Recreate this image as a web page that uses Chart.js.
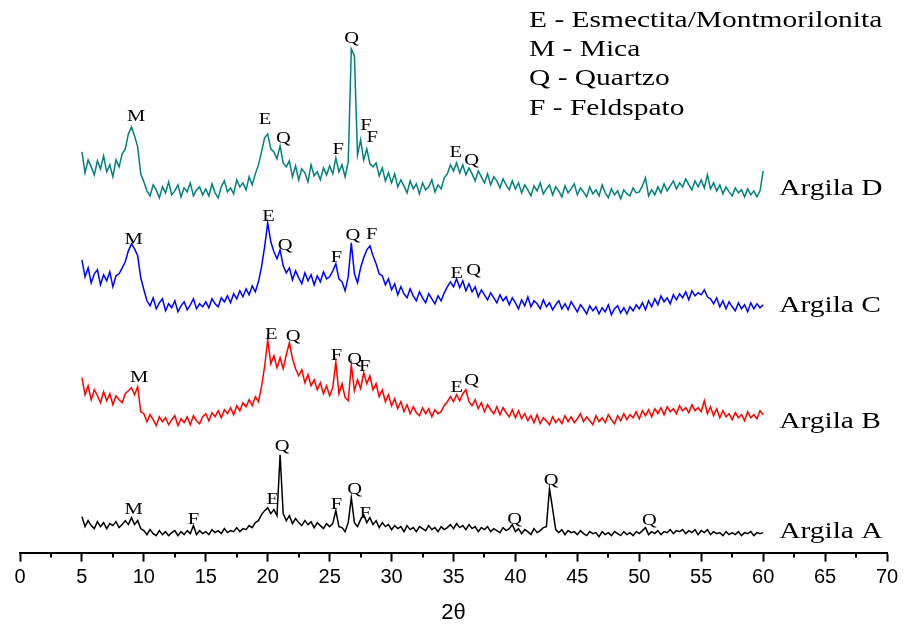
<!DOCTYPE html>
<html>
<head>
<meta charset="utf-8">
<script src="https://cdn.jsdelivr.net/npm/chart.js@4.4.1/dist/chart.umd.min.js"></script>
<style>
  body { margin: 0; background: #fff; }
  #wrap { width: 911px; height: 628px; }
</style>
</head>
<body>
<div id="wrap"><canvas id="xrd"></canvas></div>
<script>
// 2theta scan positions (deg)
const twoTheta = [
  5, 5.25, 5.5, 5.75, 6, 6.25, 6.5, 6.75, 7, 7.25, 7.5, 7.75, 8, 8.25, 8.5, 8.75, 9, 9.25, 9.5, 9.75,
  10, 10.25, 10.5, 10.75, 11, 11.25, 11.5, 11.75, 12, 12.25, 12.5, 12.75, 13, 13.25, 13.5, 13.75, 14, 14.25, 14.5, 14.75,
  15, 15.25, 15.5, 15.75, 16, 16.25, 16.5, 16.75, 17, 17.25, 17.5, 17.75, 18, 18.25, 18.5, 18.75, 19, 19.25, 19.5, 19.75,
  20, 20.25, 20.5, 20.75, 21, 21.25, 21.5, 21.75, 22, 22.25, 22.5, 22.75, 23, 23.25, 23.5, 23.75, 24, 24.25, 24.5, 24.75,
  25, 25.25, 25.5, 25.75, 26, 26.25, 26.5, 26.75, 27, 27.25, 27.5, 27.75, 28, 28.25, 28.5, 28.75, 29, 29.25, 29.5, 29.75,
  30, 30.25, 30.5, 30.75, 31, 31.25, 31.5, 31.75, 32, 32.25, 32.5, 32.75, 33, 33.25, 33.5, 33.75, 34, 34.25, 34.5, 34.75,
  35, 35.25, 35.5, 35.75, 36, 36.25, 36.5, 36.75, 37, 37.25, 37.5, 37.75, 38, 38.25, 38.5, 38.75, 39, 39.25, 39.5, 39.75,
  40, 40.25, 40.5, 40.75, 41, 41.25, 41.5, 41.75, 42, 42.25, 42.5, 42.75, 43, 43.25, 43.5, 43.75, 44, 44.25, 44.5, 44.75,
  45, 45.25, 45.5, 45.75, 46, 46.25, 46.5, 46.75, 47, 47.25, 47.5, 47.75, 48, 48.25, 48.5, 48.75, 49, 49.25, 49.5, 49.75,
  50, 50.25, 50.5, 50.75, 51, 51.25, 51.5, 51.75, 52, 52.25, 52.5, 52.75, 53, 53.25, 53.5, 53.75, 54, 54.25, 54.5, 54.75,
  55, 55.25, 55.5, 55.75, 56, 56.25, 56.5, 56.75, 57, 57.25, 57.5, 57.75, 58, 58.25, 58.5, 58.75, 59, 59.25, 59.5, 59.75,
  60
];

// intensities (a.u., stacked offset already included)
const argilaD = [
  401, 380, 393, 386, 378, 392, 384, 397, 381, 388, 376, 393, 386, 399, 404, 419, 426, 417, 406, 379,
  371, 362, 357, 368, 363, 355, 366, 360, 371, 358, 362, 368, 356, 365, 361, 370, 357, 363, 366, 358,
  364, 357, 369, 360, 355, 366, 372, 361, 365, 359, 373, 366, 370, 363, 376, 368, 379, 388, 401, 415,
  419, 404, 401, 394, 407, 390, 386, 392, 376, 387, 373, 384, 380, 371, 388, 377, 381, 373, 385, 378,
  387, 379, 395, 381, 388, 376, 391, 504, 497, 398, 413, 393, 404, 389, 386, 390, 377, 385, 372, 380,
  370, 379, 366, 373, 367, 360, 372, 364, 369, 359, 370, 363, 366, 373, 361, 368, 364, 375, 379, 388,
  382, 390, 380, 388, 378, 385, 379, 372, 382, 376, 370, 379, 368, 376, 372, 365, 374, 368, 363, 372,
  364, 370, 360, 368, 363, 357, 367, 362, 370, 359, 364, 368, 358, 366, 362, 356, 367, 360, 364, 369,
  358, 365, 361, 356, 366, 359, 363, 357, 368, 360, 355, 364, 358, 362, 354, 363, 359, 357, 365, 360,
  361, 367, 375, 357, 363, 358, 366, 360, 369, 362, 367, 372, 364, 370, 366, 374, 368, 363, 372, 366,
  373, 365, 378, 364, 370, 362, 368, 359, 366, 361, 357, 365, 360, 363, 356, 364, 358, 362, 356, 362,
  382
];
const argilaC = [
  293, 276, 285, 270, 279, 283, 268, 278, 272, 281, 266, 277, 279, 285, 291, 302, 309, 304, 297, 275,
  263, 252, 247, 255, 244, 250, 254, 242, 249, 245, 252, 241, 247, 251, 243, 248, 254, 244, 249, 246,
  251, 245, 254, 249, 246, 255, 251, 257, 250, 259, 254, 262, 256, 264, 258, 267, 261, 271, 286, 306,
  330, 311, 301, 294, 303, 287, 280, 285, 273, 282, 275, 269, 280, 272, 278, 268, 277, 271, 281, 274,
  276, 282, 289, 274, 271, 262, 276, 310, 279, 270, 285, 295, 303, 307, 297, 289, 279, 277, 268, 274,
  263, 269, 258, 266, 259, 255, 264, 257, 252, 261, 255, 250, 259, 254, 249, 257, 252, 260, 266, 271,
  266, 274, 265, 272, 262, 269, 261, 266, 256, 263, 258, 253, 260, 255, 250, 258, 252, 256, 248, 255,
  250, 244, 253, 247, 256, 246, 252, 249, 244, 253, 246, 250, 243, 248, 252, 244, 249, 243, 251, 246,
  241, 248, 244, 239, 247, 242, 246, 239, 245, 241, 248, 238, 244, 247, 240, 245, 239, 246, 242, 248,
  244, 250, 243, 252, 246, 254, 248, 257, 251, 255, 249, 258, 253, 259, 255, 261, 253, 262, 257, 260,
  258, 263, 256, 254, 249, 255, 246, 252, 244, 251, 246, 242, 250, 244, 248, 241, 250, 244, 249, 245,
  248
];
const argilaB = [
  175, 158, 167, 153, 163, 157, 150, 161, 152, 159, 148, 157, 153, 150, 159, 162, 165, 158, 166, 141,
  139, 131, 138, 133, 127, 136, 131, 135, 128, 133, 137, 127, 134, 130, 136, 128, 137, 132, 129, 136,
  139, 132, 140, 136, 142, 135, 143, 139, 145, 138, 147, 142, 150, 146, 153, 147, 156, 151, 166, 186,
  213, 189, 197, 185, 195, 184, 198, 210, 194, 184, 177, 183, 170, 178, 167, 173, 163, 170, 159, 167,
  157, 165, 191, 159, 169, 155, 152, 188, 162, 173, 164, 180, 169, 177, 163, 169, 156, 163, 151, 158,
  147, 154, 144, 151, 141, 148, 139, 146, 140, 137, 145, 139, 144, 136, 143, 139, 141, 147, 151, 156,
  151, 158, 152, 159, 163, 151, 147, 153, 144, 150, 141, 148, 143, 139, 146, 138, 145, 140, 136, 143,
  135, 142, 134, 139, 132, 137, 130, 138, 129, 135, 132, 128, 136, 130, 134, 129, 137, 131, 136, 130,
  134, 139, 131, 136, 132, 128, 137, 131, 135, 130, 138, 133, 129, 137, 132, 139, 133, 138, 135, 141,
  134, 142, 137, 143, 136, 144, 139, 145, 138, 146, 141, 144, 139, 147, 142, 145, 140, 148, 142, 145,
  141, 152, 139, 146, 137, 144, 135, 142, 136, 139, 133, 140, 135, 138, 132, 141, 135, 138, 134, 142,
  138
];
const argilaA = [
  36, 26, 32, 27, 24, 31, 26, 30, 24, 29, 27, 31, 25, 28, 32, 28, 35, 28, 32, 24,
  22, 18, 23, 19, 17, 22, 18, 21, 17, 20, 22, 17, 21, 18, 22, 19, 27, 18, 22, 19,
  21, 18, 23, 20, 22, 19, 24, 20, 22, 21, 25, 21, 24, 23, 27, 25, 30, 32, 38, 42,
  45, 39, 43, 37, 98, 39, 32, 37, 29, 34, 30, 27, 32, 28, 31, 25, 30, 27, 24, 29,
  26, 29, 42, 26, 25, 21, 30, 55, 30, 26, 33, 38, 30, 35, 28, 32, 25, 30, 26, 28,
  23, 27, 24, 26, 21, 27, 23, 25, 21, 26, 24, 22, 27, 23, 25, 21, 26, 23, 25, 28,
  24, 29, 25, 27, 23, 28, 24, 26, 21, 25, 23, 26, 21, 24, 22, 20, 25, 22, 24, 28,
  21, 24, 19, 23, 21, 18, 24, 20, 22, 25, 26, 64, 44, 23, 20, 23, 18, 22, 20, 21,
  18, 22, 19, 17, 21, 19, 20, 16, 21, 18, 20, 17, 21, 19, 17, 21, 18, 20, 17, 21,
  19, 22, 25, 18, 21, 19, 22, 18, 21, 20, 23, 19, 22, 21, 23, 19, 22, 20, 23, 18,
  22, 20, 23, 18, 21, 19, 20, 17, 21, 18, 20, 18, 21, 17, 20, 19, 21, 17, 20, 19,
  20
];

// peak letters: [letter, 2theta, intensity]
const peaksD = [["M", 9.37, 437], ["E", 19.79, 434], ["Q", 21.26, 415], ["F", 25.7, 404], ["Q", 26.78, 515],
  ["F", 27.93, 428], ["F", 28.43, 416], ["E", 35.18, 401], ["Q", 36.47, 393]];
const peaksC = [["M", 9.17, 314], ["E", 20.07, 337], ["Q", 21.4, 308], ["F", 25.55, 296], ["Q", 26.88, 318],
  ["F", 28.39, 319], ["E", 35.26, 280], ["Q", 36.63, 283]];
const peaksB = [["M", 9.61, 176], ["E", 20.29, 219], ["Q", 22.05, 217], ["F", 25.54, 198], ["Q", 27.02, 194],
  ["F", 27.83, 187], ["E", 35.26, 166], ["Q", 36.47, 173]];
const peaksA = [["M", 9.17, 44], ["F", 14.01, 34], ["E", 20.4, 54], ["Q", 21.16, 107], ["F", 25.54, 49],
  ["Q", 27.02, 64], ["F", 27.87, 40], ["Q", 39.94, 34], ["Q", 42.88, 73], ["Q", 50.81, 33]];

const sampleNames = ["Argila A", "Argila B", "Argila C", "Argila D"];
const sampleLabelY = [15, 125, 241, 358];
const sampleColors = ["#000000", "#ff0000", "#0000ff", "#008080"];
const legendLines = ["E - Esmectita/Montmorilonita", "M - Mica", "Q - Quartzo", "F - Feldspato"];
const legendY = [526, 496.5, 467.5, 438];

const serif = "'Liberation Serif', 'Times New Roman', serif";

function stretchText(ctx, txt, x, y, size, align) {
  ctx.save();
  ctx.font = size + "px " + serif;
  ctx.fillStyle = "#000";
  ctx.textBaseline = "alphabetic";
  ctx.translate(x, y);
  ctx.scale(1.28, 1);
  const w = ctx.measureText(txt).width;
  const dx = align === "center" ? -w / 2 : 0;
  ctx.fillText(txt, dx, 0);
  ctx.restore();
}

const xrdText = {
  id: "xrdText",
  afterDatasetsDraw(chart) {
    const { ctx, scales: { x, y } } = chart;
    // peak letters
    [peaksA, peaksB, peaksC, peaksD].forEach((list) => {
      list.forEach(([l, t, v]) => {
        stretchText(ctx, l, x.getPixelForValue(t), y.getPixelForValue(v) + 5, 16, "center");
      });
    });
    // sample names
    sampleNames.forEach((n, i) => {
      stretchText(ctx, n, x.getPixelForValue(61.3), y.getPixelForValue(sampleLabelY[i]), 23, "left");
    });
    // legend
    legendLines.forEach((n, i) => {
      stretchText(ctx, n, x.getPixelForValue(41.1), y.getPixelForValue(legendY[i]), 23, "left");
    });
  },
  afterDraw(chart) {
    // minor ticks
    const { ctx, scales: { x } } = chart;
    const base = chart.chartArea.bottom;
    ctx.save();
    ctx.strokeStyle = "#000";
    ctx.lineWidth = 2;
    for (let t = 2.5; t < 70; t += 5) {
      const px = Math.round(x.getPixelForValue(t));
      ctx.beginPath();
      ctx.moveTo(px, base);
      ctx.lineTo(px, base + 5);
      ctx.stroke();
    }
    ctx.restore();
  },
};

const seriesList = [argilaA, argilaB, argilaC, argilaD];

new Chart(document.getElementById("xrd"), {
  type: "line",
  data: {
    datasets: seriesList.map((s, i) => ({
      label: sampleNames[i],
      data: twoTheta.map((t, j) => ({ x: t, y: s[j] })),
      borderColor: sampleColors[i],
      borderWidth: 1.5,
      pointRadius: 0,
      tension: 0,
    })),
  },
  options: {
    responsive: true,
    maintainAspectRatio: false,
    animation: false,
    layout: { padding: { left: 20, right: 24, top: 10, bottom: 0 } },
    plugins: { legend: { display: false }, tooltip: { enabled: false } },
    scales: {
      x: {
        type: "linear",
        min: 0,
        max: 70,
        border: { display: true, color: "#000", width: 2 },
        grid: { display: true, drawOnChartArea: false, drawTicks: true, tickLength: 9, tickWidth: 2, tickColor: "#000" },
        ticks: { stepSize: 5, color: "#000", maxRotation: 0, autoSkip: false, padding: 4,
          font: { family: "'Liberation Sans', Arial, sans-serif", size: 20 } },
        title: { display: true, text: "2θ", color: "#000", padding: { top: 6, bottom: 2 },
          font: { family: "'Liberation Sans', Arial, sans-serif", size: 22 } },
      },
      y: { display: false, min: 0, max: 543 },
    },
  },
  plugins: [xrdText],
});
</script>
</body>
</html>
